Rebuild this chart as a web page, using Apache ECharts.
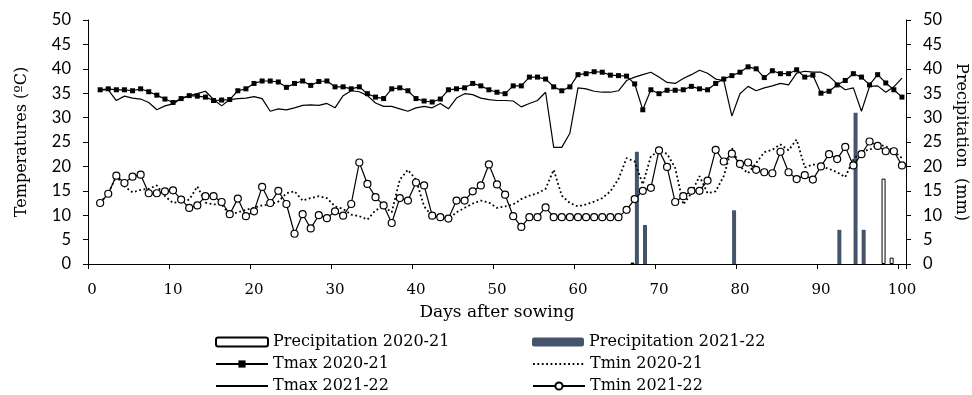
<!DOCTYPE html>
<html>
<head>
<meta charset="utf-8">
<title>Temperatures and precipitation</title>
<script src="https://cdn.jsdelivr.net/npm/echarts@6/dist/echarts.min.js"></script>
<style>
  html, body { margin: 0; padding: 0; background: #fff; }
  #chart { width: 972px; height: 395px; }
</style>
</head>
<body>
<div id="chart"></div>
<script>
// categories: day 0 .. 100 (day 0 carries no reading)
var dayLabels = [];
for (var d = 0; d <= 100; d++) {
    dayLabels.push(String(d));
}

// daily temperatures, days 1..100 (ºC)
var tmax2021 = [
    35.7, 35.9, 35.7, 35.7, 35.5, 35.9, 35.3, 34.6, 33.8, 33.1,
    33.9, 34.5, 34.4, 34.2, 33.5, 33.6, 33.7, 35.5, 35.9, 37.0,
    37.5, 37.5, 37.3, 36.2, 37.0, 37.5, 36.6, 37.4, 37.5, 36.3,
    36.3, 35.9, 36.3, 34.9, 34.2, 33.9, 35.9, 36.1, 35.5, 33.9,
    33.4, 33.2, 33.8, 35.7, 35.9, 36.1, 37.0, 36.5, 35.7, 35.2,
    34.9, 36.5, 36.5, 38.3, 38.3, 37.9, 36.3, 35.5, 36.3, 38.8,
    39.0, 39.4, 39.3, 38.7, 38.6, 38.5, 36.9, 31.6, 35.7, 34.9,
    35.6, 35.6, 35.7, 36.4, 35.9, 35.7, 37.0, 37.9, 38.6, 39.3,
    40.4, 40.0, 38.2, 39.6, 39.0, 39.0, 39.8, 38.3, 38.7, 35.0,
    35.4, 36.7, 37.6, 39.0, 38.3, 36.7, 38.8, 37.1, 35.7, 34.2
];
var tmax2122 = [
    35.7, 35.7, 33.5, 34.4, 34.0, 33.8, 33.1, 31.6, 32.4, 32.8,
    33.9, 34.5, 34.9, 35.4, 33.7, 32.4, 33.7, 33.9, 34.0, 34.3,
    33.9, 31.3, 31.8, 31.6, 32.0, 32.5, 32.6, 32.5, 32.9, 32.0,
    34.5, 35.5, 35.3, 34.5, 33.0, 32.3, 32.3, 31.8, 31.3, 32.0,
    32.3, 32.0, 32.9, 31.8, 34.0, 34.9, 34.7, 34.0, 33.7, 33.5,
    33.5, 33.4, 32.2, 32.9, 33.5, 35.2, 23.9, 23.9, 26.8, 36.1,
    35.9, 35.4, 35.2, 35.2, 35.5, 37.6, 38.3, 38.8, 39.3, 38.3,
    37.2, 37.0, 38.0, 38.8, 39.7, 39.1, 37.9, 37.6, 30.3, 34.9,
    36.4, 35.5, 36.1, 36.5, 37.0, 36.7, 39.1, 39.5, 39.3, 39.3,
    38.5, 36.9, 35.7, 36.1, 31.3, 36.4, 36.5, 35.2, 36.3, 38.1
];
var tmin2021 = [
    12.5, 14.5, 18.0, 15.9, 14.7, 15.2, 15.4, 16.1, 13.9, 12.5,
    12.8, 13.2, 15.9, 12.6, 12.2, 12.2, 10.1, 10.6, 11.1, 11.5,
    12.0, 12.2, 12.8, 14.5, 14.9, 13.0, 13.5, 13.9, 13.5, 11.8,
    11.3, 10.1, 9.8, 9.1, 11.0, 11.8, 10.6, 17.3, 19.3, 17.3,
    11.8, 9.8, 9.2, 9.2, 10.6, 11.5, 12.4, 13.0, 12.6, 11.5,
    11.8, 12.2, 13.3, 14.0, 14.5, 15.4, 19.3, 14.0, 12.5, 11.8,
    12.2, 12.8, 13.5, 14.9, 17.4, 21.7, 21.0, 16.3, 22.1, 23.1,
    22.6, 19.7, 12.2, 14.5, 18.0, 14.5, 14.9, 18.0, 23.8, 20.0,
    18.6, 20.7, 22.9, 23.4, 24.5, 23.3, 25.5, 19.8, 20.4, 20.0,
    19.5, 18.8, 17.8, 21.4, 23.1, 23.4, 24.5, 24.1, 23.1, 21.7
];
var tmin2122 = [
    12.5, 14.4, 18.1, 16.6, 17.9, 18.3, 14.5, 14.5, 14.9, 15.1,
    13.2, 11.5, 12.0, 13.9, 13.9, 12.7, 10.2, 13.4, 9.8, 10.8,
    15.8, 12.5, 15.0, 12.3, 6.2, 10.2, 7.3, 10.0, 9.4, 10.8,
    9.9, 12.3, 20.8, 16.4, 13.7, 12.0, 8.4, 13.5, 13.0, 16.7,
    16.1, 9.9, 9.6, 9.3, 13.0, 13.0, 14.9, 16.1, 20.4, 16.3,
    14.2, 9.8, 7.6, 9.6, 9.6, 11.6, 9.6, 9.6, 9.6, 9.6,
    9.6, 9.6, 9.6, 9.6, 9.6, 11.1, 13.3, 15.0, 15.6, 23.3,
    19.9, 12.7, 13.9, 15.0, 15.0, 17.1, 23.4, 21.0, 22.6, 20.5,
    20.8, 19.3, 18.8, 18.6, 23.0, 18.8, 17.4, 18.2, 17.3, 20.0,
    22.5, 21.5, 24.0, 20.2, 22.5, 25.1, 24.2, 23.1, 23.1, 20.2
];

// rainy days and precipitation (mm)
var rainDays2021 = [67, 98, 99];
var rain2021 = [0.3, 17.5, 1.3];
var rainDays2122 = [67, 68, 79, 92, 94, 95];
var rain2122 = [23, 8, 11, 7, 31, 7];

var serif = "'DejaVu Serif', serif";
var sans = "Lato, 'Noto Sans', sans-serif";

function daily(values) {
    return [null].concat(values);
}

function rainSeries(days, values) {
    var arr = dayLabels.map(function () { return '-'; });
    days.forEach(function (day, i) {
        arr[day] = values[i];
    });
    return arr;
}

// one legend box per entry, laid out as 3 rows x 2 columns
function legendEntry(item, left, top) {
    return {
        data: [item],
        left: left,
        top: top,
        itemWidth: 52,
        itemHeight: 9,
        itemGap: 0,
        textStyle: { fontFamily: serif, fontSize: 16, color: '#000' }
    };
}

var noMarker = { opacity: 0 };

var myChart = echarts.init(document.getElementById('chart'));

var axisLine = { show: true, lineStyle: { color: '#000', width: 1 } };

var option = {
    animation: false,
    backgroundColor: '#fff',
    grid: { left: 88, right: 66, top: 20, bottom: 131, outerBoundsMode: 'none', containLabel: false },
    legend: [
        legendEntry('Precipitation 2020-21', 210, 329),
        legendEntry('Tmax 2020-21', 210, 351),
        legendEntry({ name: 'Tmax 2021-22', itemStyle: noMarker }, 210, 373),
        legendEntry('Precipitation 2021-22', 527, 329),
        legendEntry({ name: 'Tmin 2020-21', itemStyle: noMarker }, 527, 351),
        legendEntry('Tmin 2021-22', 527, 373)
    ],
    xAxis: {
        type: 'category',
        data: dayLabels,
        boundaryGap: true,
        name: 'Days after sowing',
        nameLocation: 'middle',
        nameGap: 40,
        nameTextStyle: { fontFamily: serif, fontSize: 17, color: '#000' },
        axisLine: axisLine,
        axisTick: { show: true, interval: 9, length: 5, lineStyle: { color: '#000' } },
        axisLabel: { interval: 9, margin: 19, fontFamily: serif, fontSize: 15, color: '#000' },
        splitLine: { show: false }
    },
    yAxis: [{
        type: 'value',
        min: 0,
        max: 50,
        interval: 5,
        name: 'Temperatures (ºC)',
        nameLocation: 'middle',
        nameGap: 58,
        nameTextStyle: { fontFamily: serif, fontSize: 16, color: '#000' },
        axisLine: axisLine,
        axisTick: { show: true, length: 5, lineStyle: { color: '#000' } },
        axisLabel: { margin: 17, fontFamily: sans, fontSize: 16.5, color: '#000' },
        splitLine: { show: false }
    }, {
        type: 'value',
        min: 0,
        max: 50,
        interval: 5,
        position: 'right',
        name: 'Precipitation  (mm)',
        nameLocation: 'middle',
        nameRotate: -90,
        nameGap: 46,
        nameTextStyle: { fontFamily: serif, fontSize: 16, color: '#000' },
        axisLine: axisLine,
        axisTick: { show: true, length: 5, lineStyle: { color: '#000' } },
        axisLabel: { margin: 17, fontFamily: sans, fontSize: 16.5, color: '#000' },
        splitLine: { show: false }
    }],
    series: [{
        name: 'Precipitation 2020-21',
        type: 'bar',
        yAxisIndex: 1,
        data: rainSeries(rainDays2021, rain2021),
        barWidth: 4,
        barGap: '10%',
        itemStyle: { color: '#fff', borderColor: '#000', borderWidth: 1 }
    }, {
        name: 'Precipitation 2021-22',
        type: 'bar',
        yAxisIndex: 1,
        data: rainSeries(rainDays2122, rain2122),
        barWidth: 4,
        barGap: '10%',
        itemStyle: { color: '#44546A' }
    }, {
        name: 'Tmax 2020-21',
        type: 'line',
        data: daily(tmax2021),
        symbol: 'rect',
        symbolSize: 5,
        showAllSymbol: true,
        itemStyle: { color: '#000' },
        lineStyle: { color: '#000', width: 1.2 }
    }, {
        name: 'Tmax 2021-22',
        type: 'line',
        data: daily(tmax2122),
        symbol: 'none',
        itemStyle: { color: '#000' },
        lineStyle: { color: '#000', width: 1.2 }
    }, {
        name: 'Tmin 2020-21',
        type: 'line',
        data: daily(tmin2021),
        symbol: 'none',
        itemStyle: { color: '#000' },
        lineStyle: { color: '#000', width: 1.8, type: [1.8, 2.6] }
    }, {
        name: 'Tmin 2021-22',
        type: 'line',
        data: daily(tmin2122),
        symbol: 'circle',
        symbolSize: 7,
        showAllSymbol: true,
        itemStyle: { color: '#fff', borderColor: '#000', borderWidth: 1.2 },
        lineStyle: { color: '#000', width: 1.2 }
    }]
};

myChart.setOption(option);
</script>
</body>
</html>
